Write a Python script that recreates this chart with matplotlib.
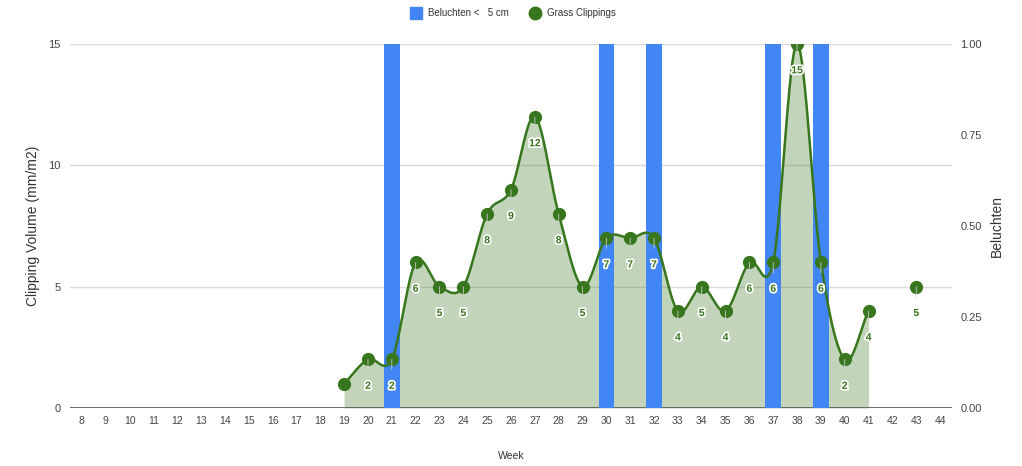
import numpy as np
import matplotlib
matplotlib.use("Agg")
import matplotlib.pyplot as plt
from matplotlib.lines import Line2D
import matplotlib.patheffects as pe

plt.rcParams['font.family'] = ['Liberation Sans', 'DejaVu Sans']

# Weekly data
weeks = list(range(8, 45))
clipping_weeks = [19, 20, 21, 22, 23, 24, 25, 26, 27, 28, 29, 30, 31, 32, 33, 34, 35, 36, 37, 38, 39, 40, 41, 43]
clipping_values = [1, 2, 2, 6, 5, 5, 8, 9, 12, 8, 5, 7, 7, 7, 4, 5, 4, 6, 6, 15, 6, 2, 4, 5]
beluchten_weeks = [21, 30, 32, 37, 39]
beluchten_values = [1, 1, 1, 1, 1]
unlabelled_weeks = [19]

BLUE = "#4285f4"
GREEN = "#38761d"


def catmull_rom(x, y, n=24):
    """Smooth curve through the points (Catmull-Rom spline)."""
    x = np.asarray(x, float)
    y = np.asarray(y, float)
    if len(x) < 2:
        return x, y
    px = np.concatenate([[2 * x[0] - x[1]], x, [2 * x[-1] - x[-2]]])
    py = np.concatenate([[2 * y[0] - y[1]], y, [2 * y[-1] - y[-2]]])
    xs, ys = [], []
    t = np.linspace(0, 1, n, endpoint=False)
    for i in range(1, len(px) - 2):
        p0x, p1x, p2x, p3x = px[i - 1:i + 3]
        p0y, p1y, p2y, p3y = py[i - 1:i + 3]
        t2, t3 = t * t, t * t * t
        xs.append(0.5 * (2 * p1x + (-p0x + p2x) * t + (2 * p0x - 5 * p1x + 4 * p2x - p3x) * t2
                         + (-p0x + 3 * p1x - 3 * p2x + p3x) * t3))
        ys.append(0.5 * (2 * p1y + (-p0y + p2y) * t + (2 * p0y - 5 * p1y + 4 * p2y - p3y) * t2
                         + (-p0y + 3 * p1y - 3 * p2y + p3y) * t3))
    xs.append([x[-1]])
    ys.append([y[-1]])
    return np.concatenate(xs), np.concatenate(ys)


# split into contiguous runs of weeks
segments = []
cur = [0]
for i in range(1, len(clipping_weeks)):
    if clipping_weeks[i] == clipping_weeks[i - 1] + 1:
        cur.append(i)
    else:
        segments.append(cur)
        cur = [i]
segments.append(cur)

fig = plt.figure(figsize=(10.22, 4.66), dpi=100)
rect = [70 / 1022, 1 - 408 / 466, (952 - 70) / 1022, (408 - 44) / 466]
ax = fig.add_axes(rect)           # left scale, area + grid
ax2 = ax.twinx()                  # right scale, bars
ax3 = ax.twinx()                  # left scale, line + points on top

xlim = (7.5, 44.5)
for a in (ax, ax2, ax3):
    a.set_xlim(*xlim)
    a.patch.set_visible(False)
    for s in a.spines.values():
        s.set_visible(False)
ax.set_ylim(0, 15)
ax3.set_ylim(0, 15)
ax2.set_ylim(0, 1)

# grid
ax.set_yticks([0, 5, 10, 15])
ax.yaxis.grid(True, color="#d9d9d9", linewidth=1)
ax.set_axisbelow(True)
ax.axhline(0, color="#555555", linewidth=1.2, zorder=5)
ax.tick_params(axis="y", length=0, labelsize=8, labelcolor="#444444", pad=7)
ax.set_xticks(weeks)
ax.set_xticklabels([str(w) for w in weeks])
ax.tick_params(axis="x", length=0, labelsize=7.5, labelcolor="#444444", pad=6)
ax.set_ylabel("Clipping Volume (mm/m2)", fontsize=10, color="#333333", labelpad=6)
ax.set_xlabel("Week", fontsize=7.5, color="#333333", labelpad=18)

# area under the curve
for seg in segments:
    if len(seg) < 2:
        continue
    sx, sy = catmull_rom([clipping_weeks[i] for i in seg], [clipping_values[i] for i in seg])
    ax.fill_between(sx, 0, sy, color=GREEN, alpha=0.3, linewidth=0, zorder=2)

# bars on the right scale
ax2.bar(beluchten_weeks, beluchten_values, width=0.65, color=BLUE, zorder=3)
ax2.set_yticks([0, 0.25, 0.5, 0.75, 1.0])
ax2.set_yticklabels(["0.00", "0.25", "0.50", "0.75", "1.00"])
ax2.tick_params(axis="y", length=0, labelsize=8, labelcolor="#444444", pad=6)
ax2.set_ylabel("Beluchten", fontsize=10, color="#333333", labelpad=6)
ax2.tick_params(axis="x", bottom=False, labelbottom=False)

# line and points
ax3.set_yticks([])
ax3.tick_params(axis="x", bottom=False, labelbottom=False)
for seg in segments:
    if len(seg) < 2:
        continue
    sx, sy = catmull_rom([clipping_weeks[i] for i in seg], [clipping_values[i] for i in seg])
    ax3.plot(sx, sy, color=GREEN, linewidth=1.8, zorder=4)
ax3.plot(clipping_weeks, clipping_values, linestyle="none", marker="o", markersize=8.5,
         color=GREEN, zorder=5)

# value labels
for w, v in zip(clipping_weeks, clipping_values):
    if w in unlabelled_weeks:
        continue
    ax3.annotate(str(v), xy=(w, v), xytext=(0, -19), textcoords="offset points",
                 ha="center", va="center", fontsize=7.5, fontweight="bold", color=GREEN,
                 path_effects=[pe.withStroke(linewidth=2.5, foreground="white")],
                 arrowprops=dict(arrowstyle="-", color="#cccccc", linewidth=0.6,
                                 shrinkA=6, shrinkB=0),
                 zorder=6)

# legend
handles = [
    Line2D([], [], linestyle="none", marker="s", markersize=9, color=BLUE),
    Line2D([], [], linestyle="none", marker="o", markersize=9, color=GREEN),
]
fig.legend(handles, ["Beluchten <   5 cm", "Grass Clippings"], loc="center",
           bbox_to_anchor=(0.5, 1 - 13 / 466), ncol=2, frameon=False, fontsize=7,
           handletextpad=0.3, columnspacing=1.6, labelcolor="#333333")

fig.savefig("out.png", dpi=100, facecolor="white")
